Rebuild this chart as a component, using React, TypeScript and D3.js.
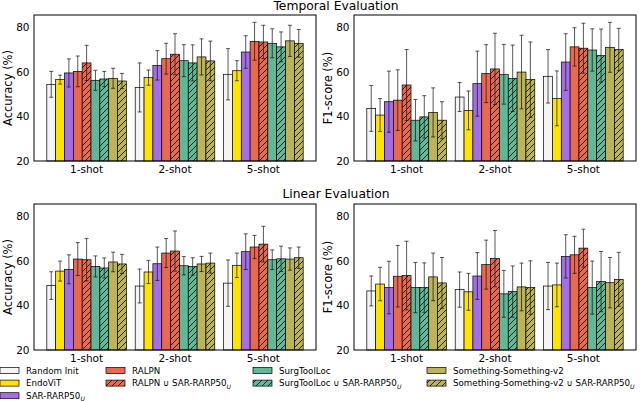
import React from 'react';
import * as d3 from 'd3';

// shot settings on the x axis
const groups = ['1-shot', '2-shot', '5-shot'];

// methods, in bar order (sub = subscript U after the name)
const methods = [
  { name: 'Random Init', sub: false },
  { name: 'EndoViT', sub: false },
  { name: 'SAR-RARP50', sub: true },
  { name: 'RALPN', sub: false },
  { name: 'RALPN \u222A SAR-RARP50', sub: true },
  { name: 'SurgToolLoc', sub: false },
  { name: 'SurgToolLoc \u222A SAR-RARP50', sub: true },
  { name: 'Something-Something-v2', sub: false },
  { name: 'Something-Something-v2 \u222A SAR-RARP50', sub: true },
];
const colors = ['#f4f4f4', '#ffe400', '#a56ee8', '#e8694f', '#e8694f', '#62b797', '#62b797', '#bcb35a', '#bcb35a'];
const hatched = [false, false, false, false, true, false, true, false, true];

// temporal evaluation, accuracy: one row per method, one value per shot group
const temporalAccMean = [
  [54.4, 53.0, 58.9], [56.5, 57.4, 60.5], [59.5, 62.9, 68.9],
  [60.2, 65.9, 73.7], [64.0, 67.9, 73.4], [56.2, 65.0, 72.8],
  [56.8, 64.0, 71.2], [57.1, 66.7, 73.9], [55.9, 64.9, 72.8],
];
const temporalAccStd = [
  [5.8, 11.0, 11.5], [2.0, 3.4, 4.5], [6.3, 6.6, 7.3],
  [6.9, 6.9, 8.5], [7.9, 9.2, 7.5], [4.5, 7.2, 6.5],
  [3.4, 8.1, 6.7], [4.5, 8.1, 7.0], [3.4, 8.9, 6.2],
];
const temporalF1Mean = [
  [43.6, 48.7, 58.0], [40.6, 42.7, 48.1], [46.6, 54.7, 64.4],
  [47.3, 59.2, 71.2], [54.1, 61.3, 70.6], [38.3, 58.9, 69.8],
  [39.8, 57.1, 67.3], [41.8, 59.9, 71.0], [38.3, 56.5, 70.0],
];
const temporalF1Std = [
  [10.3, 6.5, 12.0], [7.4, 8.7, 12.3], [13.7, 14.6, 12.7],
  [13.6, 13.0, 8.6], [15.9, 16.0, 11.2], [9.3, 13.4, 9.5],
  [9.5, 14.9, 11.9], [11.0, 16.5, 11.2], [8.3, 16.9, 9.5],
];
// linear evaluation
const linearAccMean = [
  [48.9, 48.7, 50.0], [55.4, 55.0, 58.0], [56.2, 58.7, 64.1],
  [60.8, 63.5, 66.2], [60.5, 64.4, 67.5], [57.5, 57.8, 60.5],
  [56.8, 57.5, 60.9], [59.5, 58.6, 60.8], [58.6, 59.0, 61.4],
];
const linearAccStd = [
  [6.2, 7.6, 10.4], [4.5, 5.2, 5.5], [6.5, 7.5, 8.0],
  [7.4, 6.5, 5.2], [9.5, 9.0, 8.0], [4.7, 4.1, 4.4],
  [4.5, 3.9, 5.7], [4.4, 3.4, 5.0], [4.3, 4.5, 4.8],
];
const linearF1Mean = [
  [46.5, 47.1, 48.7], [49.6, 46.1, 49.2], [48.0, 53.2, 62.0],
  [53.1, 58.3, 62.7], [53.4, 61.0, 65.7], [48.0, 45.2, 48.0],
  [48.0, 46.2, 50.7], [52.8, 48.3, 50.2], [50.1, 48.0, 51.7],
];
const linearF1Std = [
  [6.7, 7.9, 10.6], [7.5, 8.3, 9.8], [11.8, 10.5, 9.7],
  [13.8, 11.0, 8.3], [15.4, 12.6, 8.5], [11.3, 10.5, 11.9],
  [11.1, 11.5, 13.5], [10.7, 10.7, 11.3], [11.4, 12.0, 12.1],
];
const yTicks = [20, 40, 60, 80];

const FONT = 'DejaVu Sans';
const barW = 0.1;

function Label({ name, sub }: { name: string; sub: boolean }) {
  return (
    <>
      {name}
      {sub && (
        <tspan fontSize="0.7em" fontStyle="italic" dy={2.5}>U</tspan>
      )}
    </>
  );
}

function Panel(props: {
  x0: number; x1: number; y0: number; y1: number;
  mean: number[][]; std: number[][]; ylabel: string;
}) {
  const { x0, x1, y0, y1, mean, std, ylabel } = props;
  const half = (methods.length * barW) / 2;
  const pad = (groups.length - 1 + 2 * half) * 0.05;
  const x = d3.scaleLinear().domain([-half - pad, groups.length - 1 + half + pad]).range([x0, x1]);
  const y = d3.scaleLinear().domain([20, 85.5]).range([y1, y0]);
  const cap = 2;
  return (
    <g>
      {groups.map((g, gi) =>
        methods.map((m, mi) => {
          const c = gi + (mi - (methods.length - 1) / 2) * barW;
          const left = x(c - barW / 2);
          const w = x(c + barW / 2) - left;
          const top = y(mean[mi][gi]);
          return (
            <g key={g + mi}>
              <rect x={left} y={top} width={w} height={y1 - top} fill={colors[mi]} stroke="#000" strokeWidth={0.7} />
              {hatched[mi] && (
                <rect x={left} y={top} width={w} height={y1 - top} fill="url(#hatch)" stroke="none" />
              )}
            </g>
          );
        })
      )}
      {groups.map((g, gi) =>
        methods.map((m, mi) => {
          const c = gi + (mi - (methods.length - 1) / 2) * barW;
          const cx = x(c);
          const hi = y(mean[mi][gi] + std[mi][gi]);
          const lo = y(Math.max(20, mean[mi][gi] - std[mi][gi]));
          return (
            <g key={'e' + g + mi} stroke="#111" strokeOpacity={0.7} strokeWidth={1}>
              <line x1={cx} x2={cx} y1={hi} y2={lo} />
              <line x1={cx - cap} x2={cx + cap} y1={hi} y2={hi} />
              <line x1={cx - cap} x2={cx + cap} y1={lo} y2={lo} />
            </g>
          );
        })
      )}
      <rect x={x0} y={y0} width={x1 - x0} height={y1 - y0} fill="none" stroke="#000" strokeWidth={1} />
      {yTicks.map((t) => (
        <text key={t} x={x0 - 4.5} y={y(t)} dy="0.36em" textAnchor="end" fontSize={10.5} fontFamily={FONT}>
          {t}
        </text>
      ))}
      {groups.map((g, gi) => (
        <text key={g} x={x(gi)} y={y1 + 12} textAnchor="middle" fontSize={10.5} fontFamily={FONT}>
          {g}
        </text>
      ))}
      <text
        transform={`translate(${x0 - 22.5},${(y0 + y1) / 2}) rotate(-90)`}
        textAnchor="middle"
        fontSize={11.5}
        fontFamily={FONT}
      >
        {ylabel}
      </text>
    </g>
  );
}

// legend columns as matplotlib fills them (column-wise, ncol=4)
const legendCols = [[0, 1, 2], [3, 4], [5, 6], [7, 8]];
const legendX = [0, 106, 253, 427];

export default function App() {
  return (
    <svg width={640} height={401} style={{ position: 'absolute', left: 0, top: 0, background: '#fff' }} fontFamily={FONT}>
      <defs>
        <pattern id="hatch" patternUnits="userSpaceOnUse" width={6} height={6}>
          <path d="M0,6 L6,0 M-1.5,1.5 L1.5,-1.5 M4.5,7.5 L7.5,4.5" stroke="#000" strokeWidth={0.8} />
        </pattern>
      </defs>
      <text x={336} y={10} textAnchor="middle" fontSize={12.3}>Temporal Evaluation</text>
      <text x={336} y={198} textAnchor="middle" fontSize={12.3}>Linear Evaluation</text>
      <Panel x0={34} x1={316} y0={15} y1={161} mean={temporalAccMean} std={temporalAccStd} ylabel="Accuracy (%)" />
      <Panel x0={354} x1={636} y0={15} y1={161} mean={temporalF1Mean} std={temporalF1Std} ylabel="F1-score (%)" />
      <Panel x0={34} x1={316} y0={204} y1={350} mean={linearAccMean} std={linearAccStd} ylabel="Accuracy (%)" />
      <Panel x0={354} x1={636} y0={204} y1={350} mean={linearF1Mean} std={linearF1Std} ylabel="F1-score (%)" />
      {legendCols.map((col, ci) =>
        col.map((mi, ri) => {
          const lx = legendX[ci];
          const ly = 370.5 + ri * 12.6;
          return (
            <g key={mi}>
              <rect x={lx} y={ly - 3} width={19} height={6} fill={colors[mi]} stroke="#000" strokeWidth={0.7} />
              {hatched[mi] && <rect x={lx} y={ly - 3} width={19} height={6} fill="url(#hatch)" />}
              <text x={lx + 26} y={ly} dy="0.35em" fontSize={8.7}>
                <Label name={methods[mi].name} sub={methods[mi].sub} />
              </text>
            </g>
          );
        })
      )}
    </svg>
  );
}
